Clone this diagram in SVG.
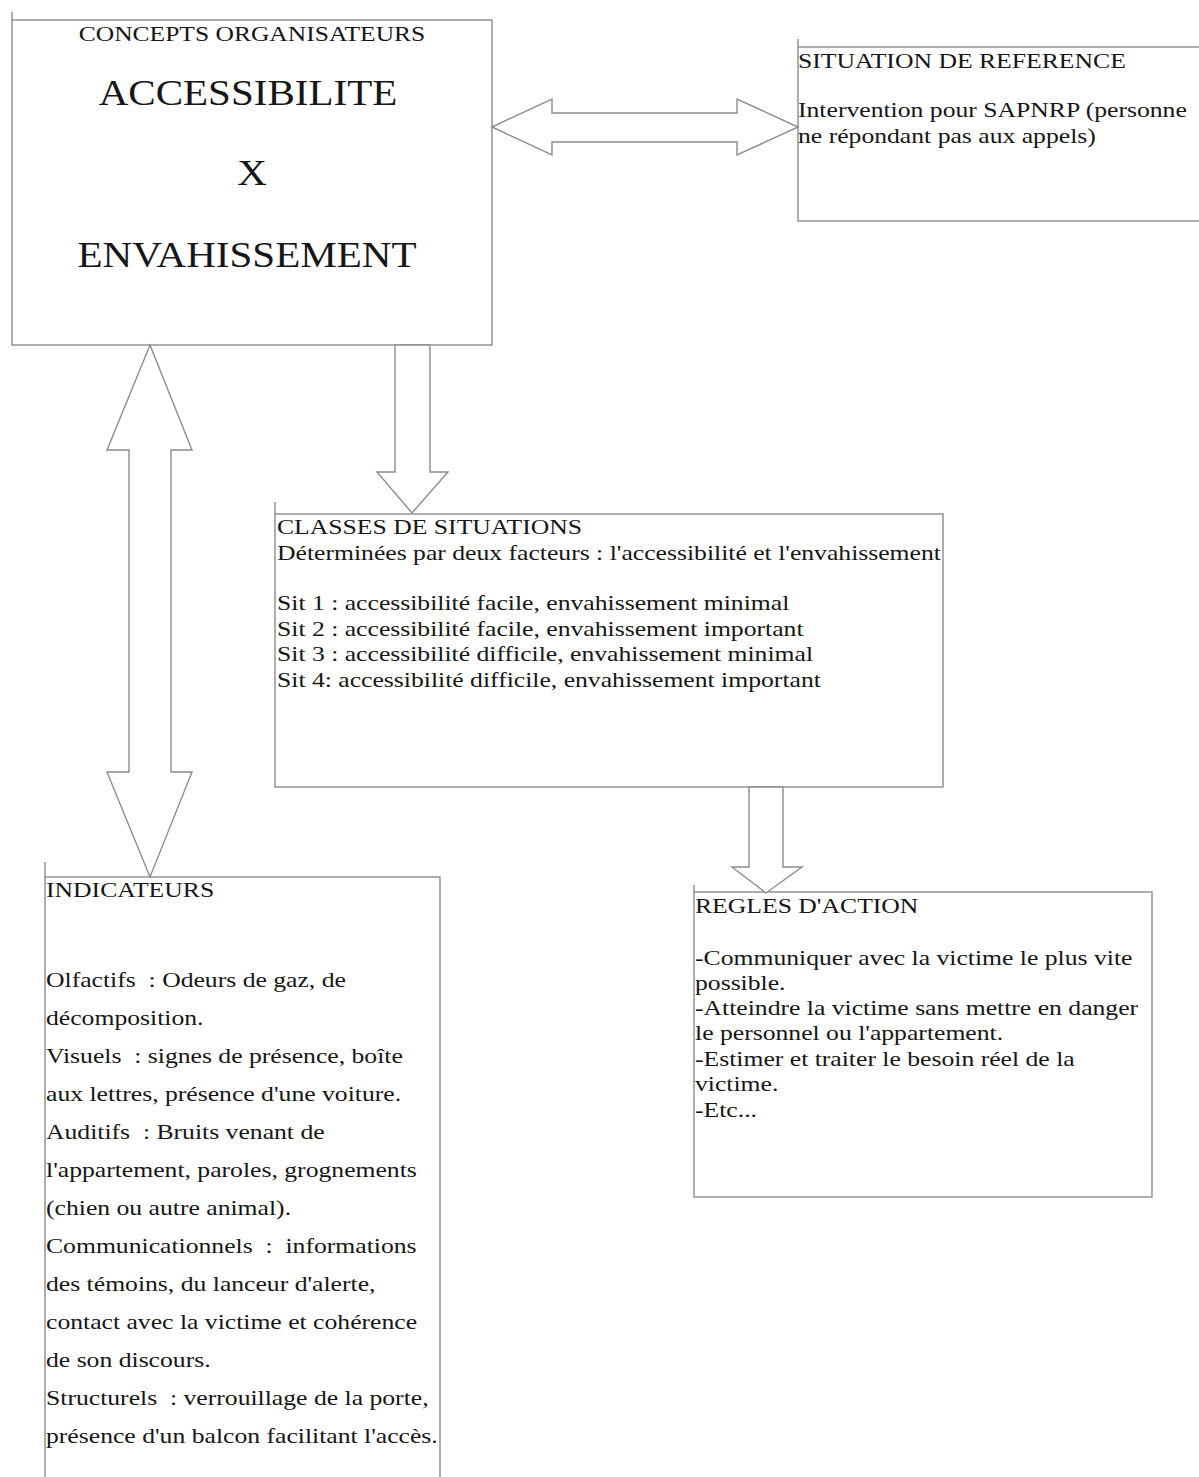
<svg xmlns="http://www.w3.org/2000/svg" width="1199" height="1477" viewBox="0 0 1199 1477">
<style>
.box{fill:#fff;stroke:#8c8c8c;stroke-width:1.4}
.tick{stroke:#8c8c8c;stroke-width:1.4}
.arrow{fill:#fff;stroke:#8c8c8c;stroke-width:1.4;stroke-linejoin:miter}
.t{font-family:"Liberation Serif","Times New Roman",serif;font-size:22px;fill:#161616;white-space:pre}
.big{font-family:"Liberation Serif","Times New Roman",serif;font-size:36px;fill:#161616;text-anchor:middle}
.mid{text-anchor:middle}
</style>
<rect width="1199" height="1477" fill="#fff"/>
<g id="concepts">
<rect class="box" x="12" y="20" width="480" height="325"/>
<line class="tick" x1="12" y1="12" x2="12" y2="20"/>
<text class="t mid" transform="matrix(1.16 0 0 1 252 41)">CONCEPTS ORGANISATEURS</text>
<text class="big" transform="matrix(1.14 0 0 1 248 105)">ACCESSIBILITE</text>
<text class="big" transform="matrix(1.14 0 0 1 252 185)">X</text>
<text class="big" transform="matrix(1.14 0 0 1 247 267)">ENVAHISSEMENT</text>
</g>
<g id="situation-reference">
<rect class="box" x="798" y="47" width="410" height="174"/>
<line class="tick" x1="798" y1="39" x2="798" y2="47"/>
<text class="t" xml:space="preserve" transform="matrix(1.167 0 0 1 798 68)"><tspan x="0" y="0">SITUATION DE REFERENCE</tspan><tspan x="0" y="49">Intervention pour SAPNRP (personne</tspan><tspan x="0" y="75">ne répondant pas aux appels)</tspan></text>
</g>
<g id="classes-situations">
<rect class="box" x="275" y="514" width="668" height="273"/>
<line class="tick" x1="275" y1="502" x2="275" y2="514"/>
<text class="t" xml:space="preserve" transform="matrix(1.167 0 0 1 277 534)"><tspan x="0" y="0">CLASSES DE SITUATIONS</tspan><tspan x="0" y="26">Déterminées par deux facteurs : l'accessibilité et l'envahissement</tspan><tspan x="0" y="76">Sit 1 : accessibilité facile, envahissement minimal</tspan><tspan x="0" y="102">Sit 2 : accessibilité facile, envahissement important</tspan><tspan x="0" y="127">Sit 3 : accessibilité difficile, envahissement minimal</tspan><tspan x="0" y="153">Sit 4: accessibilité difficile, envahissement important</tspan></text>
</g>
<g id="regles-action">
<rect class="box" x="694" y="892" width="458" height="305"/>
<line class="tick" x1="694" y1="885" x2="694" y2="892"/>
<text class="t" xml:space="preserve" transform="matrix(1.167 0 0 1 695 913)"><tspan x="0" y="0">REGLES D'ACTION</tspan><tspan x="0" y="52">-Communiquer avec la victime le plus vite</tspan><tspan x="0" y="77">possible.</tspan><tspan x="0" y="102">-Atteindre la victime sans mettre en danger</tspan><tspan x="0" y="127">le personnel ou l'appartement.</tspan><tspan x="0" y="153">-Estimer et traiter le besoin réel de la</tspan><tspan x="0" y="178">victime.</tspan><tspan x="0" y="204">-Etc...</tspan></text>
</g>
<g id="indicateurs">
<rect class="box" x="45" y="877" width="395" height="620"/>
<line class="tick" x1="45" y1="862" x2="45" y2="877"/>
<text class="t" xml:space="preserve" transform="matrix(1.167 0 0 1 46 897)"><tspan x="0" y="0">INDICATEURS</tspan><tspan x="0" y="90">Olfactifs  : Odeurs de gaz, de</tspan><tspan x="0" y="128">décomposition.</tspan><tspan x="0" y="166">Visuels  : signes de présence, boîte</tspan><tspan x="0" y="204">aux lettres, présence d'une voiture.</tspan><tspan x="0" y="242">Auditifs  : Bruits venant de</tspan><tspan x="0" y="280">l'appartement, paroles, grognements</tspan><tspan x="0" y="318">(chien ou autre animal).</tspan><tspan x="0" y="356">Communicationnels  :  informations</tspan><tspan x="0" y="394">des témoins, du lanceur d'alerte,</tspan><tspan x="0" y="432">contact avec la victime et cohérence</tspan><tspan x="0" y="470">de son discours.</tspan><tspan x="0" y="508">Structurels  : verrouillage de la porte,</tspan><tspan x="0" y="546">présence d'un balcon facilitant l'accès.</tspan></text>
</g>
<g id="connectors">
<polygon class="arrow" points="492,127 552,99 552,113 737,113 737,99 798,127 737,155 737,142 552,142 552,155"/>
<polygon class="arrow" points="150,345 192,450 171,450 171,772 192,772 150,877 107,772 129,772 129,450 107,450"/>
<polygon class="arrow" points="395,345 430,345 430,472 448,472 412,513 377,472 395,472"/>
<polygon class="arrow" points="749,787 783,787 783,867 802,867 766,893 732,867 749,867"/>
</g>
</svg>
